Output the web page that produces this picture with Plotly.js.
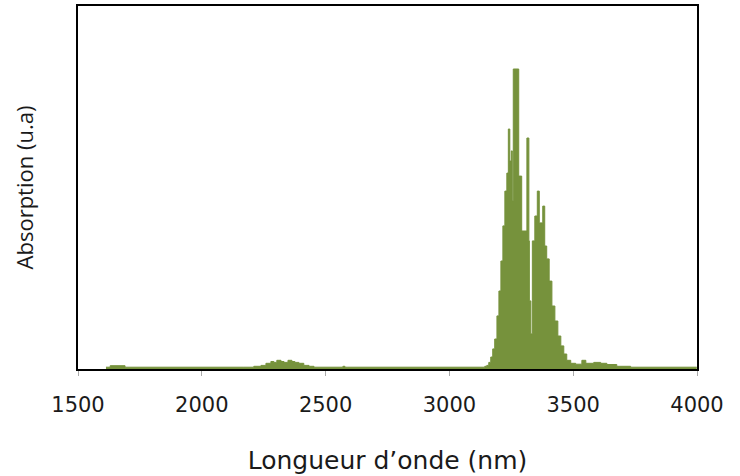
<!DOCTYPE html>
<html>
<head>
<meta charset="utf-8">
<script src="https://cdn.plot.ly/plotly-3.0.1.min.js"></script>
<style>html,body{margin:0;padding:0;background:#fff;}#chart{width:740px;height:476px;}</style>
</head>
<body>
<div id="chart"></div>
<script>
// Wavelength (nm) and absorption (a.u.) (step-wise spectrum)
const wavelength = [
  1613, 1630, 1690, 2170, 2210, 2239, 2259, 2279, 2291, 2303, 2320, 2332, 2348, 2364, 2376, 2392, 2412, 2433, 2453,
  2570, 2578, 2590,
  3143, 3151, 3159, 3167, 3175, 3183, 3192, 3200, 3208, 3216, 3224, 3232, 3238, 3244, 3250, 3254, 3258,
  3280, 3292, 3313, 3321, 3323, 3329, 3335, 3345, 3355, 3363, 3377, 3385, 3393, 3403, 3414, 3426, 3438,
  3450, 3462, 3474, 3490, 3510, 3535, 3551, 3583, 3611, 3636, 3676, 3732, 3999
];
const absorption = [
  0.006, 0.011, 0.006, 0.006, 0.009, 0.012, 0.019, 0.025, 0.022, 0.029, 0.025, 0.022, 0.029, 0.025, 0.022, 0.019, 0.012, 0.009, 0.006,
  0.009, 0.006, 0.006,
  0.009, 0.012, 0.022, 0.040, 0.067, 0.100, 0.177, 0.260, 0.360, 0.477, 0.593, 0.653, 0.800, 0.693, 0.727, 0.560, 1.000,
  0.643, 0.460, 0.770, 0.427, 0.227, 0.117, 0.427, 0.510, 0.593, 0.487, 0.543, 0.410, 0.367, 0.293, 0.210, 0.160, 0.110,
  0.077, 0.050, 0.029, 0.019, 0.016, 0.029, 0.019, 0.022, 0.019, 0.015, 0.009, 0.006, 0.006
];
const xTicks = [1500, 2000, 2500, 3000, 3500, 4000];

const trace = {
  x: wavelength, y: absorption,
  type: 'scatter', mode: 'lines',
  line: {color: '#76923C', width: 1, shape: 'hv'},
  fill: 'tozeroy', fillcolor: '#76923C',
  hoverinfo: 'skip'
};
const xFont = 'DejaVu Sans, sans-serif';
const yFont = 'Open Sans, sans-serif';
const layout = {
  width: 740, height: 476,
  margin: {l: 78, r: 43, t: 6, b: 107},
  paper_bgcolor: '#fff', plot_bgcolor: '#fff',
  showlegend: false,
  xaxis: {
    range: [1500, 4000], tickvals: xTicks, ticktext: xTicks.map(String),
    showgrid: false, zeroline: false,
    showline: true, linecolor: '#000', linewidth: 2, mirror: true,
    ticks: 'outside', ticklen: 5, tickcolor: '#aaa', tickwidth: 1,
    ticklabelstandoff: 11,
    tickfont: {family: xFont, size: 21, color: '#1a1a1a'},
    title: {text: 'Longueur d’onde (nm)', font: {family: xFont, size: 25, color: '#1a1a1a'}, standoff: 35}
  },
  yaxis: {
    range: [0, 1.21], showticklabels: false, ticks: '',
    showgrid: false, zeroline: false,
    showline: true, linecolor: '#000', linewidth: 2, mirror: true,
    title: {text: 'Absorption (u.a)', font: {family: yFont, size: 22, color: '#1a1a1a'}, standoff: 36}
  }
};
Plotly.newPlot('chart', [trace], layout, {displayModeBar: false, staticPlot: true});
</script>
</body>
</html>
